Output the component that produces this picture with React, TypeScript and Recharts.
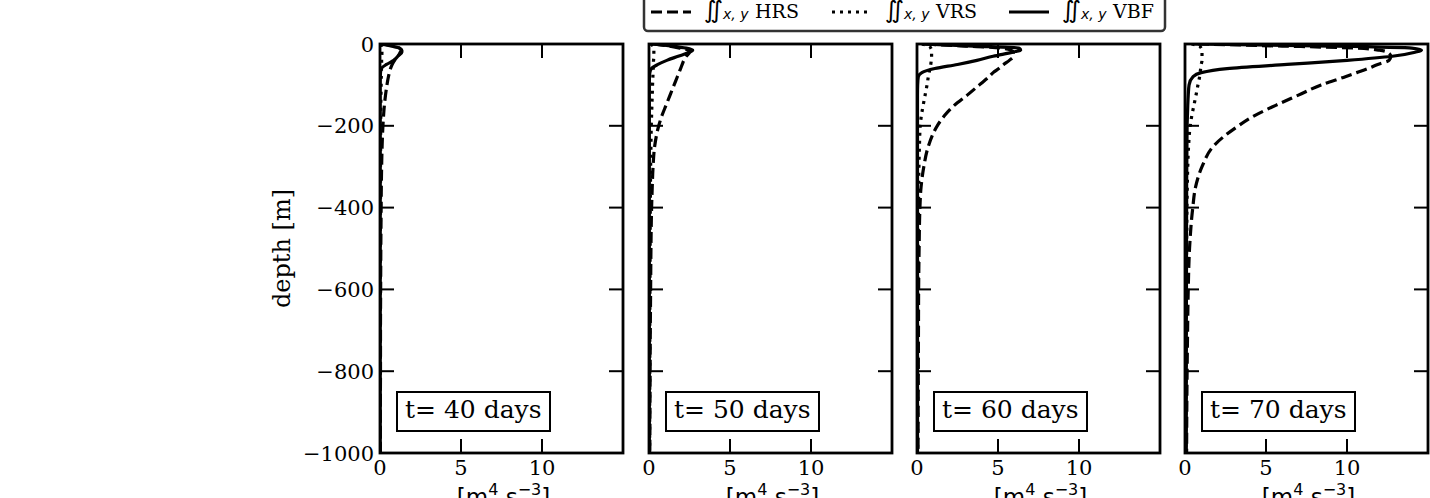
import { LineChart, Line, XAxis, YAxis, Customized } from "recharts";

const DEPTH = [0, -5, -10, -15, -20, -30, -40, -50, -60, -70, -80, -100, -125, -150, -175, -200, -250, -300, -350, -400, -500, -600, -700, -800, -900, -1000];

const HRS_40 = [0.2, 0.8, 1.2, 1.35, 1.35, 1.1, 0.9, 0.75, 0.65, 0.58, 0.52, 0.43, 0.34, 0.27, 0.22, 0.18, 0.13, 0.1, 0.08, 0.07, 0.05, 0.04, 0.03, 0.03, 0.02, 0.02];
const VRS_40 = [0.05, 0.1, 0.12, 0.12, 0.12, 0.11, 0.1, 0.1, 0.09, 0.09, 0.08, 0.07, 0.06, 0.05, 0.05, 0.04, 0.04, 0.03, 0.03, 0.03, 0.02, 0.02, 0.02, 0.02, 0.02, 0.02];
const VBF_40 = [0.1, 0.7, 1.2, 1.3, 1.25, 1.1, 0.85, 0.4, 0.08, 0.03, 0.02, 0.01, 0.01, 0.01, 0.01, 0.01, 0.01, 0.01, 0.01, 0.01, 0.01, 0.01, 0.01, 0.01, 0.01, 0.01];

const HRS_50 = [0.3, 1.2, 1.9, 2.4, 2.5, 2.3, 2.15, 2.05, 1.95, 1.85, 1.75, 1.55, 1.3, 1.05, 0.8, 0.6, 0.35, 0.25, 0.2, 0.16, 0.12, 0.1, 0.08, 0.07, 0.06, 0.05];
const VRS_50 = [0.1, 0.25, 0.3, 0.3, 0.3, 0.3, 0.28, 0.27, 0.26, 0.25, 0.24, 0.22, 0.2, 0.18, 0.16, 0.14, 0.12, 0.1, 0.09, 0.08, 0.07, 0.06, 0.05, 0.05, 0.04, 0.04];
const VBF_50 = [0.2, 1.4, 2.3, 2.7, 2.5, 1.8, 1.1, 0.55, 0.15, 0.05, 0.03, 0.02, 0.02, 0.02, 0.02, 0.02, 0.02, 0.02, 0.02, 0.02, 0.02, 0.02, 0.02, 0.02, 0.02, 0.02];

const HRS_60 = [0.5, 3.0, 5.2, 5.8, 5.95, 5.95, 5.7, 5.35, 5.05, 4.7, 4.45, 3.85, 3.1, 2.3, 1.7, 1.25, 0.7, 0.42, 0.25, 0.18, 0.13, 0.1, 0.09, 0.08, 0.07, 0.06];
const VRS_60 = [0.3, 0.75, 0.85, 0.9, 0.9, 0.9, 0.88, 0.85, 0.8, 0.75, 0.7, 0.62, 0.5, 0.38, 0.27, 0.2, 0.15, 0.12, 0.1, 0.09, 0.07, 0.06, 0.05, 0.05, 0.04, 0.04];
const VBF_60 = [0.3, 3.5, 6.3, 6.4, 5.9, 4.7, 3.7, 2.5, 1.1, 0.3, 0.08, 0.04, 0.03, 0.03, 0.03, 0.03, 0.03, 0.03, 0.03, 0.03, 0.03, 0.03, 0.03, 0.03, 0.03, 0.03];

const HRS_70 = [0.8, 6.0, 10.5, 12.0, 12.5, 12.7, 12.6, 11.9, 11.3, 10.6, 9.9, 8.4, 7.0, 5.6, 4.3, 3.3, 1.75, 1.05, 0.65, 0.48, 0.28, 0.2, 0.16, 0.13, 0.11, 0.1];
const VRS_70 = [0.4, 0.9, 1.0, 1.05, 1.05, 1.05, 1.05, 1.0, 0.97, 0.93, 0.9, 0.8, 0.68, 0.55, 0.42, 0.32, 0.22, 0.17, 0.14, 0.12, 0.1, 0.08, 0.07, 0.06, 0.06, 0.05];
const VBF_70 = [0.5, 9.0, 14.0, 14.6, 14.2, 12.8, 10.0, 6.3, 2.6, 1.0, 0.5, 0.25, 0.2, 0.17, 0.15, 0.13, 0.12, 0.11, 0.1, 0.1, 0.09, 0.09, 0.08, 0.08, 0.08, 0.08];

const PANEL_TITLES = ["t= 40 days", "t= 50 days", "t= 60 days", "t= 70 days"];
const PANEL_SERIES = [
  [HRS_40, VRS_40, VBF_40],
  [HRS_50, VRS_50, VBF_50],
  [HRS_60, VRS_60, VBF_60],
  [HRS_70, VRS_70, VBF_70],
];
const X_TICKS = [0, 5, 10];
const Y_TICKS = [0, -200, -400, -600, -800, -1000];
const LEGEND_NAMES = ["HRS", "VRS", "VBF"];

// layout (page pixels)
const PANEL_LEFT = [380, 649, 917, 1185];
const PLOT_TOP = 44;
const PLOT_W = 243;
const PLOT_H = 409;
const CHART_H = 498;
const SERIF = "DejaVu Serif";
const SANS = "DejaVu Sans";

const fmtDepth = (v: number) => (v < 0 ? `\u2212${Math.abs(v)}` : `${v}`);

function Panel({ idx }: { idx: number }) {
  const first = idx === 0;
  const yw = first ? 130 : 10;
  const plotL = yw;
  const plotR = yw + PLOT_W;
  const plotB = PLOT_TOP + PLOT_H;
  const [hrs, vrs, vbf] = PANEL_SERIES[idx];
  const rows = DEPTH.map((d, i) => ({ depth: d, hrs: hrs[i], vrs: vrs[i], vbf: vbf[i] }));

  const YTick = (p: any) => (
    <g>
      <line x1={plotL} x2={plotL + 14} y1={p.y} y2={p.y} stroke="#000" strokeWidth={2} />
      <line x1={plotR - 14} x2={plotR} y1={p.y} y2={p.y} stroke="#000" strokeWidth={2} />
      {first && (
        <text x={plotL - 6} y={p.y + 7.5} textAnchor="end" fontFamily={SERIF} fontSize={21} fill="#000">
          {fmtDepth(p.payload.value)}
        </text>
      )}
    </g>
  );

  const XTick = (p: any) => (
    <g>
      <line x1={p.x} x2={p.x} y1={plotB} y2={plotB - 14} stroke="#000" strokeWidth={2} />
      <line x1={p.x} x2={p.x} y1={PLOT_TOP} y2={PLOT_TOP + 14} stroke="#000" strokeWidth={2} />
      <text x={p.x} y={plotB + 22} textAnchor="middle" fontFamily={SERIF} fontSize={21} fill="#000">
        {p.payload.value}
      </text>
    </g>
  );

  const Decor = () => (
    <g>
      <rect x={plotL} y={PLOT_TOP} width={PLOT_W} height={PLOT_H} fill="none" stroke="#000" strokeWidth={2.8} />
      <rect x={plotL + 17} y={392} width={153} height={39} fill="#fff" stroke="#000" strokeWidth={2} />
      <text x={plotL + 25} y={418} fontFamily={SERIF} fontSize={25} fill="#000">
        {PANEL_TITLES[idx]}
      </text>
      <text x={plotL + PLOT_W / 2 + 2} y={505} textAnchor="middle" fontFamily={SANS} fontSize={23} fill="#000">
        [m<tspan dy={-10} fontSize={16}>4</tspan>
        <tspan dy={10}> s</tspan>
        <tspan dy={-10} fontSize={16}>{"\u22123"}</tspan>
        <tspan dy={10}>]</tspan>
      </text>
      {first && (
        <text
          transform={`translate(${290 - 250}, ${PLOT_TOP + PLOT_H / 2}) rotate(-90)`}
          textAnchor="middle"
          fontFamily={SERIF}
          fontSize={24}
          fill="#000"
        >
          depth [m]
        </text>
      )}
    </g>
  );

  return (
    <div style={{ position: "absolute", left: PANEL_LEFT[idx] - yw, top: 0 }}>
      <LineChart
        layout="vertical"
        width={yw + PLOT_W + 4}
        height={CHART_H}
        data={rows}
        margin={{ top: PLOT_TOP, right: 4, bottom: 0, left: 0 }}
      >
        <XAxis
          type="number"
          domain={[0, 15]}
          ticks={X_TICKS}
          allowDataOverflow
          axisLine={false}
          tickLine={false}
          height={CHART_H - PLOT_TOP - PLOT_H}
          tick={<XTick />}
        />
        <YAxis
          type="number"
          dataKey="depth"
          domain={[-1000, 0]}
          ticks={Y_TICKS}
          reversed
          allowDataOverflow
          axisLine={false}
          tickLine={false}
          width={yw}
          tick={<YTick />}
        />
        <Line dataKey="hrs" type="monotone" stroke="#000" strokeWidth={3.2} strokeDasharray="11 5" dot={false} isAnimationActive={false} />
        <Line dataKey="vrs" type="monotone" stroke="#000" strokeWidth={3.2} strokeDasharray="3 5" dot={false} isAnimationActive={false} />
        <Line dataKey="vbf" type="monotone" stroke="#000" strokeWidth={3.2} dot={false} isAnimationActive={false} />
        <Customized component={<Decor />} />
      </LineChart>
    </div>
  );
}

function LegendBox() {
  const dashes = ["11 5", "3 5", undefined];
  const starts = [651, 832, 1009];
  return (
    <svg width={1430} height={40} style={{ position: "absolute", left: 0, top: 0 }}>
      <rect x={644} y={-6} width={521} height={37} rx={4} fill="#fff" stroke="#333" strokeWidth={2.5} />
      {LEGEND_NAMES.map((name, i) => {
        const x = starts[i];
        return (
          <g key={name}>
            <line x1={x} x2={x + 40} y1={12} y2={12} stroke="#000" strokeWidth={3.2} strokeDasharray={dashes[i]} />
            <text x={x + 53} y={18} fontFamily={SANS} fontSize={24} fill="#000">
              {"\u222C"}
            </text>
            <text x={x + 72} y={19} fontFamily={SANS} fontSize={14} fontStyle="italic" fill="#000">
              x, y
            </text>
            <text x={x + 104} y={18} fontFamily={SERIF} fontSize={19} fill="#000">
              {name}
            </text>
          </g>
        );
      })}
    </svg>
  );
}

export default function App() {
  return (
    <div style={{ position: "absolute", left: 0, top: 0, width: 1430, height: 498, background: "#fff", overflow: "hidden" }}>
      {PANEL_LEFT.map((_, i) => (
        <Panel key={i} idx={i} />
      ))}
      <LegendBox />
    </div>
  );
}
